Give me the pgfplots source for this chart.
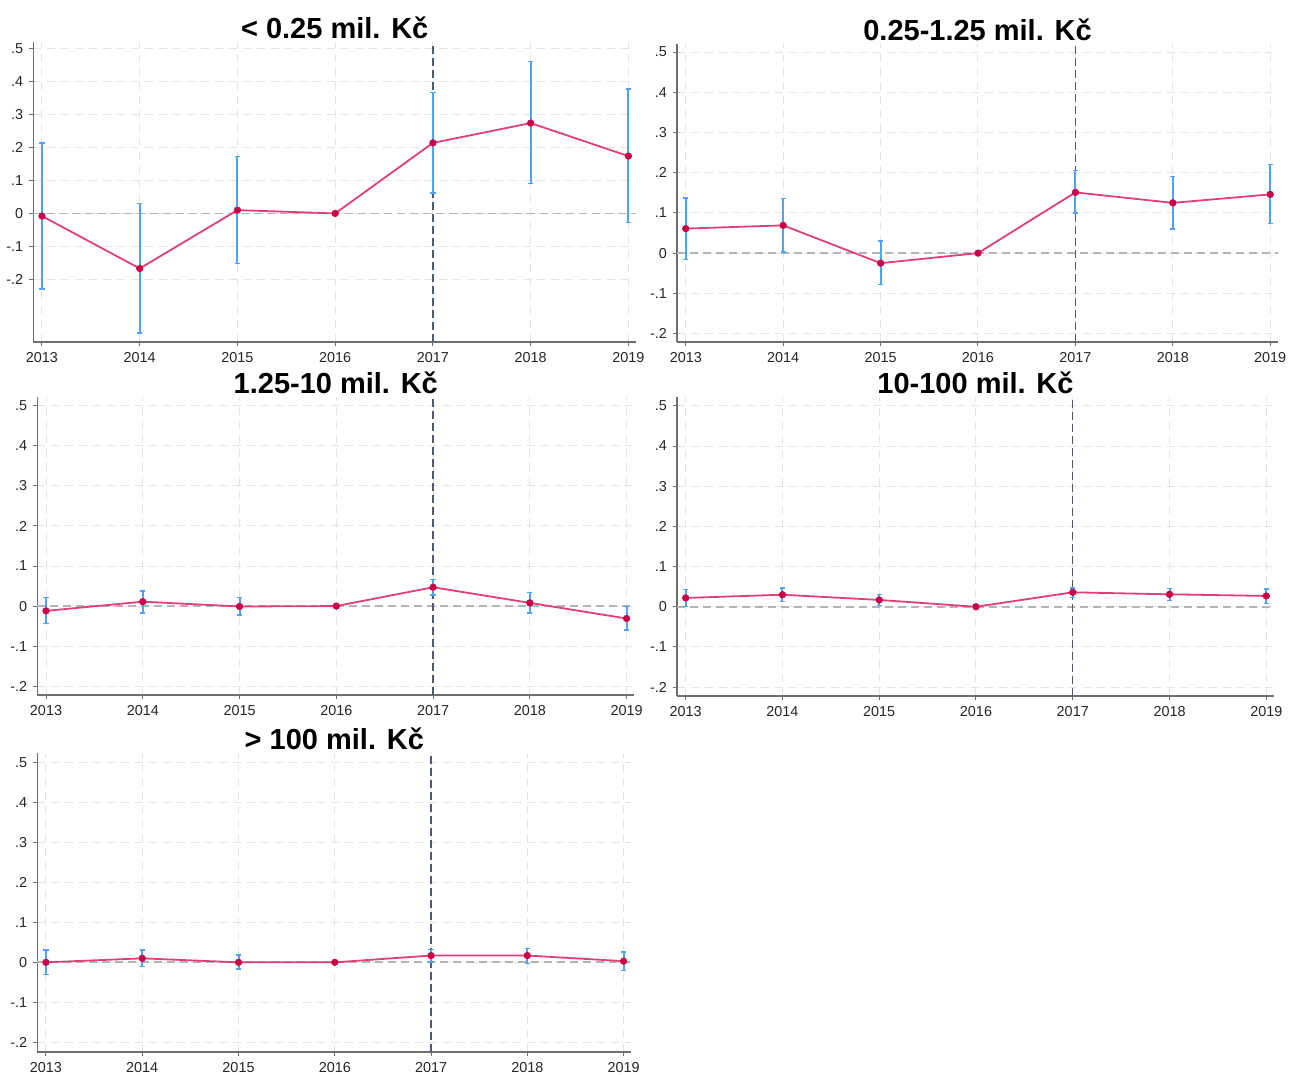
\documentclass[border=0pt]{standalone}
\usepackage{pgfplots}
\pgfplotsset{compat=1.18}
\usepackage{pgfplotstable}
\usepackage{fontspec}
\setmainfont{Liberation Sans}
\definecolor{linec}{HTML}{E0407A}
\definecolor{markc}{HTML}{CC0048}
\definecolor{errc}{HTML}{4FA3F5}
\definecolor{gridc}{HTML}{E4E4E4}
\definecolor{zeroc}{HTML}{B4B4B4}
\definecolor{vlinec}{HTML}{505A6E}
\definecolor{axc}{HTML}{6E6E6E}

% year  coef  lower  upper
\pgfplotstableread{
x y lo hi
2013 -0.008 -0.229 0.214
2014 -0.167 -0.363 0.031
2015 0.010 -0.152 0.172
2016 0 0 0
2017 0.214 0.062 0.366
2018 0.274 0.091 0.460
2019 0.174 -0.028 0.378
}\dA
\pgfplotstableread{
x y lo hi
2013 0.061 -0.016 0.137
2014 0.069 0.003 0.136
2015 -0.025 -0.078 0.030
2016 0 0 0
2017 0.151 0.100 0.206
2018 0.125 0.060 0.190
2019 0.146 0.073 0.220
}\dB
\pgfplotstableread{
x y lo hi
2013 -0.012 -0.044 0.022
2014 0.011 -0.017 0.038
2015 -0.001 -0.022 0.022
2016 0 0 0
2017 0.047 0.028 0.066
2018 0.008 -0.017 0.034
2019 -0.031 -0.060 -0.001
}\dC
\pgfplotstableread{
x y lo hi
2013 0.022 0.000 0.043
2014 0.030 0.013 0.047
2015 0.017 0.003 0.031
2016 0 0 0
2017 0.036 0.023 0.047
2018 0.031 0.016 0.045
2019 0.027 0.008 0.044
}\dD
\pgfplotstableread{
x y lo hi
2013 0.000 -0.031 0.031
2014 0.010 -0.011 0.031
2015 0.000 -0.017 0.018
2016 0 0 0
2017 0.017 0.001 0.032
2018 0.017 -0.003 0.035
2019 0.003 -0.020 0.026
}\dE

\pgfplotsset{
  panel/.style={
    scale only axis,
    anchor=south west,
    xmin=2012.91, xmax=2019.08,
    ymax=0.522, ymin=-0.222,
    xtick={2013,2014,2015,2016,2017,2018,2019},
    xticklabels={2013,2014,2015,2016,2017,2018,2019},
    ytick={-0.2,-0.1,0,0.1,0.2,0.3,0.4,0.5},
    yticklabels={-.2,-.1,0,.1,.2,.3,.4,.5},
    axis x line*=bottom, axis y line*=left,
    axis line style={axc, line width=0.6pt, -},
    tick align=outside, major tick length=2pt,
    tick style={axc, line width=0.5pt},
    xmajorgrids, ymajorgrids,
    major grid style={gridc, dashed, dash pattern=on 4pt off 3pt, line width=0.5pt},
    tick label style={font=\fontsize{7.2}{8.5}\selectfont, text=black!85},
    xticklabel style={yshift=0.5pt},
    yticklabel style={xshift=0.5pt},
    title style={at={(0.5,1)}, anchor=center, yshift=1pt,
      font=\fontsize{14.5}{16}\selectfont\bfseries},
    clip=false,
  },
}

\newcommand{\panelplots}[1]{%
  \addplot[zeroc, dashed, dash pattern=on 4pt off 2.5pt, line width=0.85pt, forget plot]
    coordinates {(2012.91,0) (2019.08,0)};
  \addplot[vlinec, dashed, dash pattern=on 4pt off 2pt, line width=0.65pt, forget plot]
    coordinates {(2017,\pgfkeysvalueof{/pgfplots/ymin}) (2017,\pgfkeysvalueof{/pgfplots/ymax})};
  \addplot[markc, only marks, mark=*, mark size=0.5pt,
    mark options={fill=markc, draw=none}, forget plot,
    skip coords between index={3}{4},
    error bars/.cd, y dir=both, y explicit,
    error bar style={draw=errc, line width=1pt},
    error mark options={draw=errc, rotate=90, mark size=1.3pt, line width=0.7pt}]
    table[x=x, y=y, y error plus expr=\thisrow{hi}-\thisrow{y},
      y error minus expr=\thisrow{y}-\thisrow{lo}] {#1};
  \addplot[linec, line width=0.9pt, mark=*, mark size=1.65pt,
    mark options={fill=markc, draw=markc, line width=0.3pt}]
    table[x=x, y=y] {#1};
}

\begin{document}
\begin{tikzpicture}
\path[use as bounding box] (0,0) rectangle (645.5pt,-537.5pt);

\begin{axis}[panel, at={(16.6pt,-171pt)}, width=301.5pt, height=150pt,
  ymin=-0.39, ymax=0.52, title={< 0.25 mil. Kč}]
\panelplots{\dA}
\end{axis}

\begin{axis}[panel, at={(338.5pt,-171pt)}, width=300.5pt, height=149pt,
  ymin=-0.221, ymax=0.52, title={0.25-1.25 mil. Kč}]
\panelplots{\dB}
\end{axis}

\begin{axis}[panel, at={(18.65pt,-347.5pt)}, width=298.5pt, height=149pt,
  title={1.25-10 mil. Kč}]
\panelplots{\dC}
\end{axis}

\begin{axis}[panel, at={(338.5pt,-348pt)}, width=298.5pt, height=149.5pt,
  title={10-100 mil. Kč}]
\panelplots{\dD}
\end{axis}

\begin{axis}[panel, at={(18.65pt,-526pt)}, width=297pt, height=149.5pt,
  ymin=-0.224, ymax=0.523, title={> 100 mil. Kč}]
\panelplots{\dE}
\end{axis}
\end{tikzpicture}
\end{document}
